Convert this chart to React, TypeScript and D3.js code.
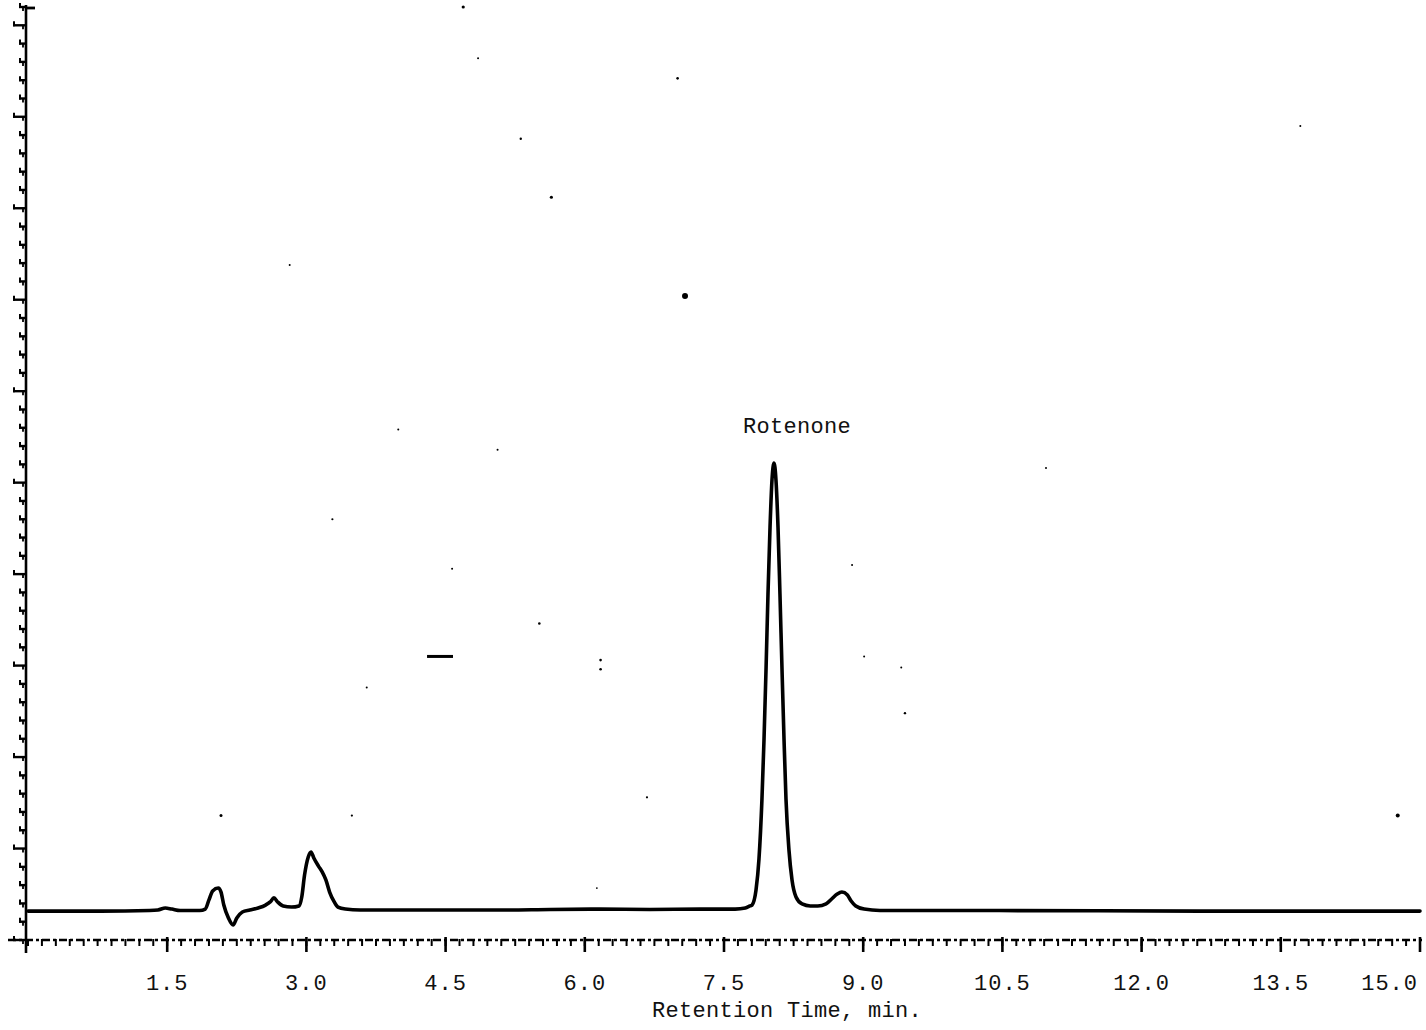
import React from "react";
import * as d3 from "d3";

// Retention time (min) and detector signal (chart divisions)
const traceTime = [
  0.0, 0.78, 1.31, 1.4, 1.48, 1.55, 1.64, 1.85, 1.91, 1.95, 1.99, 2.05, 2.08, 2.11,
  2.16, 2.21, 2.25, 2.31, 2.39, 2.48, 2.56, 2.61, 2.65, 2.69, 2.75, 2.84, 2.92, 2.95,
  2.98, 3.02, 3.05, 3.08, 3.13, 3.17, 3.21, 3.25, 3.3, 3.34, 3.42, 3.58, 4.55, 5.09,
  5.63, 6.16, 6.7, 7.24, 7.62, 7.73, 7.78, 7.802, 7.845, 7.877, 7.909, 7.931, 7.953,
  7.974, 7.996, 8.017, 8.039, 8.06, 8.082, 8.103, 8.125, 8.147, 8.168, 8.2, 8.233,
  8.276, 8.341, 8.43, 8.51, 8.6, 8.66, 8.72, 8.77, 8.83, 8.87, 8.92, 9.01, 9.18,
  10.47, 12.63, 15.0,
];
const traceSignal = [
  1.58, 1.58, 1.61, 1.64, 1.75, 1.69, 1.61, 1.61, 1.69, 2.19, 2.68, 2.84, 2.62, 1.91,
  1.2, 0.82, 1.2, 1.53, 1.64, 1.75, 1.91, 2.08, 2.3, 2.08, 1.86, 1.8, 1.86, 2.35,
  3.55, 4.54, 4.81, 4.48, 4.04, 3.72, 3.28, 2.62, 2.08, 1.8, 1.69, 1.64, 1.64, 1.64,
  1.67, 1.69, 1.67, 1.69, 1.69, 1.75, 1.86, 1.91, 2.73, 4.43, 7.7, 10.93, 14.81,
  18.91, 22.57, 25.14, 26.07, 25.14, 22.57, 18.91, 14.81, 10.93, 7.7, 4.92, 3.28,
  2.35, 1.97, 1.86, 1.86, 1.97, 2.24, 2.51, 2.62, 2.46, 2.13, 1.86, 1.69, 1.61,
  1.61, 1.58, 1.58,
];

const xTickValues = [1.5, 3.0, 4.5, 6.0, 7.5, 9.0, 10.5, 12.0, 13.5, 15.0];
const xTickLabels = ["1.5", "3.0", "4.5", "6.0", "7.5", "9.0", "10.5", "12.0", "13.5", "15.0"];
const xMinorStep = 0.15;
const yMaxDivisions = 51;

const peakLabel = "Rotenone";
const peakTime = 8.039;
const peakSignal = 26.07;
const xAxisTitle = "Retention Time, min.";

// scanning specks on the original chart paper
const speckTime = [4.69, 4.85, 7.0, 5.31, 5.64, 7.08, 2.82, 3.99, 5.06, 3.28, 4.57, 5.51, 6.17, 6.17, 3.65, 9.01, 9.41, 9.45, 8.88, 10.97, 13.71, 14.76, 6.67, 2.08, 3.49, 6.13];
const speckSignal = [51.0, 48.2, 47.1, 43.8, 40.6, 35.2, 36.9, 27.9, 26.8, 23.0, 20.3, 17.3, 15.3, 14.8, 13.8, 15.5, 14.9, 12.4, 20.5, 25.8, 44.5, 6.8, 7.8, 6.8, 6.8, 2.84];
const speckSize = [1.6, 1, 1.3, 1.2, 1.6, 3, 1, 1, 1, 1.1, 1, 1.3, 1.3, 1.3, 1, 1, 1, 1.2, 1, 1, 1, 2, 1.1, 1.5, 1.1, 0.9];
const dashTime = [4.3, 4.58];
const dashSignal = [15.5, 15.5];

const W = 1426;
const H = 1030;

export default function App() {
  const x = d3.scaleLinear().domain([0, 15]).range([28, 1420]);
  const y = d3.scaleLinear().domain([0, yMaxDivisions]).range([940, 7]);

  const pts: [number, number][] = traceTime.map((t, i) => [t, traceSignal[i]]);
  const line = d3
    .line<[number, number]>()
    .x((d) => x(d[0]))
    .y((d) => y(d[1]))
    .curve(d3.curveMonotoneX);

  const minorX = d3.range(0, 15 + 1e-9, xMinorStep);
  const yTicks = d3.range(0, yMaxDivisions + 1, 1);
  const axisY = y(0);
  const axisX = x(0) - 2;
  const font = "'Liberation Mono', 'DejaVu Sans Mono', monospace";

  return (
    <svg
      width={W}
      height={H}
      viewBox={`0 0 ${W} ${H}`}
      style={{ position: "absolute", left: 0, top: 0, background: "#fff" }}
    >
      <rect x={0} y={0} width={W} height={H} fill="#fff" />

      {/* y axis */}
      <line x1={axisX} y1={y(yMaxDivisions) - 2} x2={axisX} y2={axisY + 13} stroke="#000" strokeWidth={2.6} />
      <line x1={axisX} y1={y(yMaxDivisions) + 1} x2={axisX + 9} y2={y(yMaxDivisions) + 1} stroke="#000" strokeWidth={2.8} />
      {yTicks.map((v) => {
        const len = v % 5 === 0 ? 13 : 7;
        return (
          <g key={"yt" + v}>
            <line x1={axisX - len} x2={axisX} y1={y(v)} y2={y(v)} stroke="#000" strokeWidth={2.4} />
            <line x1={axisX - len + 1} x2={axisX - len + 1} y1={y(v) - 4} y2={y(v) + 1} stroke="#000" strokeWidth={2} />
            <line x1={axisX - 3} x2={axisX - 3} y1={y(v)} y2={y(v) + 4} stroke="#000" strokeWidth={1.8} />
          </g>
        );
      })}

      {/* x axis */}
      <line
        x1={8}
        y1={axisY}
        x2={x(15) + 2}
        y2={axisY}
        stroke="#000"
        strokeWidth={2.4}
        strokeDasharray="8 3 3 3"
      />
      {minorX.map((t, i) => (
        <line key={"xm" + i} x1={x(t)} x2={x(t)} y1={axisY - 1} y2={axisY + 6} stroke="#000" strokeWidth={2} />
      ))}
      {xTickValues.map((t) => (
        <line key={"xM" + t} x1={x(t)} x2={x(t)} y1={axisY - 3} y2={axisY + 12} stroke="#000" strokeWidth={2.6} />
      ))}
      {xTickValues.map((t, i) => (
        <text
          key={"xl" + t}
          x={i === xTickValues.length - 1 ? x(t) - 2 : x(t)}
          y={990}
          textAnchor={i === xTickValues.length - 1 ? "end" : "middle"}
          fontFamily={font}
          fontSize={22}
          fill="#111"
          letterSpacing={1}
        >
          {xTickLabels[i]}
        </text>
      ))}
      <text x={787} y={1017} textAnchor="middle" fontFamily={font} fontSize={22} fill="#111" letterSpacing={0.3}>
        {xAxisTitle}
      </text>

      {/* trace */}
      <path d={line(pts) || ""} fill="none" stroke="#000" strokeWidth={3.6} strokeLinejoin="round" strokeLinecap="round" />

      {/* peak label */}
      <text
        x={x(peakTime) + 23}
        y={y(peakSignal) - 30}
        textAnchor="middle"
        fontFamily={font}
        fontSize={22}
        fill="#111"
        letterSpacing={0.3}
      >
        {peakLabel}
      </text>

      {/* specks */}
      {speckTime.map((t, i) => (
        <circle key={"sp" + i} cx={x(t)} cy={y(speckSignal[i])} r={speckSize[i]} fill="#000" />
      ))}
      <line x1={x(dashTime[0])} x2={x(dashTime[1])} y1={y(dashSignal[0])} y2={y(dashSignal[1])} stroke="#000" strokeWidth={3} />
    </svg>
  );
}
